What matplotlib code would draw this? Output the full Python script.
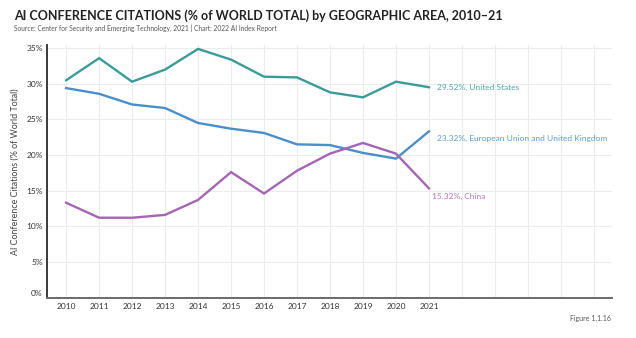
import matplotlib
matplotlib.use("Agg")
import matplotlib.pyplot as plt
import matplotlib.transforms as mtransforms

years = [2010, 2011, 2012, 2013, 2014, 2015, 2016, 2017, 2018, 2019, 2020, 2021]
us = [30.5, 33.6, 30.3, 32.0, 34.9, 33.4, 31.0, 30.9, 28.8, 28.1, 30.3, 29.52]
eu_uk = [29.4, 28.6, 27.1, 26.6, 24.5, 23.7, 23.1, 21.5, 21.4, 20.3, 19.5, 23.32]
china = [13.3, 11.2, 11.2, 11.6, 13.7, 17.6, 14.6, 17.8, 20.2, 21.7, 20.2, 15.32]
series_names = ["United States", "European Union and United Kingdom", "China"]
yticks = [0, 5, 10, 15, 20, 25, 30, 35]

colors = ["#3a9c98", "#4a8fcb", "#a565b5"]
label_colors = ["#4aa9a5", "#5b9dd4", "#b476c2"]

plt.rcParams['font.family'] = ['Lato', 'DejaVu Sans']

fig = plt.figure(figsize=(6.36, 3.38), dpi=100)
ax = fig.add_axes([47/636, 1 - 297.5/338, (612-47)/636, (297.5-45)/338])

for vals, c in zip([us, eu_uk, china], colors):
    ax.plot(years, vals, color=c, lw=1.7, solid_joinstyle='miter', zorder=3)

ax.set_xlim(2009.42, 2026.55)
ax.set_ylim(0, 35.45)
ax.set_xticks(list(range(2010, 2027)))
ax.set_xticklabels([str(y) if y <= 2021 else "" for y in range(2010, 2027)])
ax.set_yticks(yticks)
ax.set_yticklabels([f"{v}%" for v in yticks])
ax.grid(True, color="#ececec", lw=0.8, zorder=0)
ax.tick_params(axis='x', length=0, labelsize=6, colors="#333333", pad=4)
ax.tick_params(axis='y', length=0, labelsize=6, colors="#333333", pad=3)
# shift 0% label up slightly as in reference
lbl0 = ax.get_yticklabels()[0]
lbl0.set_transform(lbl0.get_transform() + mtransforms.ScaledTranslation(0, 5/100, fig.dpi_scale_trans))

for s in ['top', 'right']:
    ax.spines[s].set_visible(False)
ax.spines['left'].set_color("#3a3a3a")
ax.spines['left'].set_linewidth(1.4)
ax.spines['bottom'].set_color("#6a6a6a")
ax.spines['bottom'].set_linewidth(1.4)

ax.set_ylabel("AI Conference Citations (% of World Total)", fontsize=6.4, color="#444444")
ax.yaxis.set_label_coords((20 - 47) / (612 - 47), 0.5)

# end labels
ends = [us[-1], eu_uk[-1], china[-1]]
offsets = [(6, 0), (6, -5), (2, -6)]
for name, v, c, (dx, dy) in zip(series_names, ends, label_colors, offsets):
    ax.annotate(f"{v:.2f}%, {name}", xy=(years[-1], v), xytext=(dx, dy),
                textcoords="offset points", fontsize=6.0, color=c,
                va='center', ha='left')

fig.text(14/636, 1 - 16/338, "AI CONFERENCE CITATIONS (% of WORLD TOTAL) by GEOGRAPHIC AREA, 2010\u201321",
         fontsize=9.0, fontweight='bold', color="#222222", va='center', ha='left')
fig.text(14/636, 1 - 28/338, "Source: Center for Security and Emerging Technology, 2021 | Chart: 2022 AI Index Report",
         fontsize=4.75, color="#555555", va='center', ha='left')
fig.text(611/636, 1 - 319/338, "Figure 1.1.16", fontsize=5, color="#555555", va='center', ha='right')

fig.savefig("out.png", dpi=100, facecolor="white")
